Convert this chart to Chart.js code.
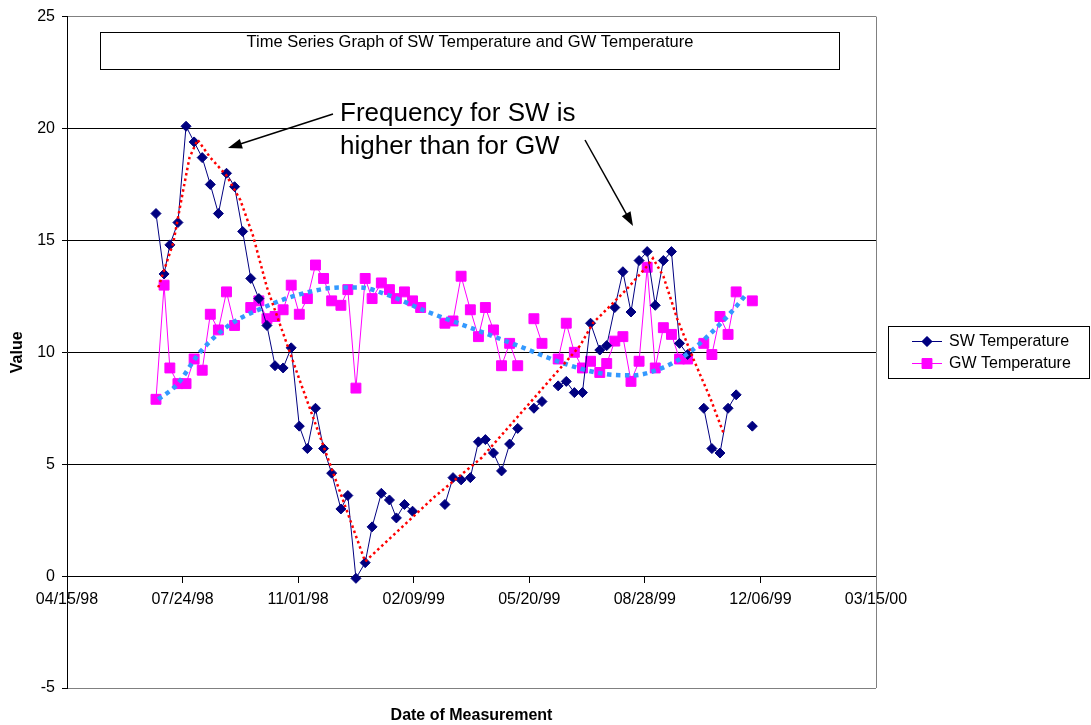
<!DOCTYPE html>
<html lang="en">
<head>
<meta charset="UTF-8">
<title>Time Series Graph of SW Temperature and GW Temperature</title>
<script src="https://cdn.jsdelivr.net/npm/chart.js"></script>
<style>
  html, body { margin: 0; padding: 0; background: #fff; }
  #wrap { position: relative; width: 1091px; height: 725px; }
</style>
</head>
<body>
<div id="wrap"><canvas id="tempChart"></canvas></div>
<script>
// weekly sampling dates, null = no reading that week
const sampleDates = [
  '07/01/98', '07/08/98', '07/13/98', '07/20/98', '07/27/98', '08/03/98', '08/10/98', '08/17/98',
  '08/24/98', '08/31/98', '09/07/98', '09/14/98', '09/21/98', '09/28/98', '10/05/98', '10/12/98',
  '10/19/98', '10/26/98', '11/02/98', '11/09/98', '11/16/98', '11/23/98', '11/30/98', '12/08/98',
  '12/14/98', '12/21/98', '12/29/98', '01/04/99', '01/12/99', '01/19/99', '01/25/99', '02/01/99',
  '02/08/99', '02/15/99', '02/22/99', '03/01/99', '03/08/99', '03/15/99', '03/22/99', '03/30/99',
  '04/06/99', '04/12/99', '04/19/99', '04/26/99', '05/03/99', '05/10/99', '05/17/99', '05/24/99',
  '05/31/99', '06/07/99', '06/14/99', '06/21/99', '06/28/99', '07/05/99', '07/12/99', '07/20/99',
  '07/26/99', '08/02/99', '08/09/99', '08/16/99', '08/23/99', '08/30/99', '09/06/99', '09/13/99',
  '09/20/99', '09/27/99', '10/04/99', '10/11/99', '10/18/99', '10/25/99', '11/01/99', '11/08/99',
  '11/15/99', '11/22/99', '11/29/99'
];
const swTemperature = [
  16.2, 13.5, 14.8, 15.8, 20.1, 19.4, 18.7, 17.5,
  16.2, 18.0, 17.4, 15.4, 13.3, 12.4, 11.2, 9.4,
  9.3, 10.2, 6.7, 5.7, 7.5, 5.7, 4.6, 3.0,
  3.6, -0.1, 0.6, 2.2, 3.7, 3.4, 2.6, 3.2,
  2.9, null, null, null, 3.2, 4.4, 4.3, 4.4,
  6.0, 6.1, 5.5, 4.7, 5.9, 6.6, null, 7.5,
  7.8, null, 8.5, 8.7, 8.2, 8.2, 11.3, 10.1,
  10.3, 12.0, 13.6, 11.8, 14.1, 14.5, 12.1, 14.1,
  14.5, 10.4, 9.9, null, 7.5, 5.7, 5.5, 7.5,
  8.1, null, 6.7
];
const gwTemperature = [
  7.9, 13.0, 9.3, 8.6, 8.6, 9.7, 9.2, 11.7,
  11.0, 12.7, 11.2, null, 12.0, 12.3, 11.5, 11.6,
  11.9, 13.0, 11.7, 12.4, 13.9, 13.3, 12.3, 12.1,
  12.8, 8.4, 13.3, 12.4, 13.1, 12.8, 12.4, 12.7,
  12.3, 12.0, null, null, 11.3, 11.4, 13.4, 11.9,
  10.7, 12.0, 11.0, 9.4, 10.4, 9.4, null, 11.5,
  10.4, null, 9.7, 11.3, 10.0, 9.3, 9.6, 9.1,
  9.5, 10.5, 10.7, 8.7, 9.6, 13.8, 9.3, 11.1,
  10.8, 9.7, 9.7, null, 10.4, 9.9, 11.6, 10.8,
  12.7, null, 12.3
];

// trend curves drawn over the readings
const swTrendDates = [
  '07/03/98', '07/16/98', '07/24/98', '07/30/98', '08/06/98', '08/17/98', '08/31/98', '09/12/98',
  '09/23/98', '10/05/98', '11/02/98', '12/29/98', '02/26/99', '04/09/99', '07/03/99', '07/14/99',
  '08/12/99', '08/29/99', '09/04/99', '09/13/99', '09/25/99', '10/09/99', '10/24/99', '11/04/99'
];
const swTrendValues = [
  12.9, 14.9, 17.1, 18.7, 19.5, 18.7, 17.9, 16.8,
  15.2, 12.9, 8.8, 0.65, 3.5, 5.3, 10.3, 11.3,
  12.8, 13.8, 14.2, 13.4, 11.5, 9.7, 7.9, 6.4
];
const gwTrendDates = [
  '07/03/98', '07/19/98', '08/08/98', '09/02/98', '10/02/98', '11/03/98', '12/08/98', '12/24/98',
  '01/18/99', '02/19/99', '03/30/99', '05/10/99', '06/19/99', '07/22/99', '08/17/99', '09/11/99',
  '10/03/99', '10/23/99', '11/10/99', '11/24/99'
];
const gwTrendValues = [
  7.9, 8.55, 10.0, 11.2, 12.0, 12.6, 12.9, 12.9,
  12.55, 11.85, 11.1, 10.3, 9.5, 9.05, 8.97, 9.28,
  9.9, 10.8, 11.75, 12.6
];

const xTickLabels = ['04/15/98', '07/24/98', '11/01/98', '02/09/99', '05/20/99', '08/28/99', '12/06/99', '03/15/00'];
const yMin = -5, yMax = 25, yStep = 5;

const FONT = "'Liberation Sans', Arial, sans-serif";

function dayNumber(mmddyy) {
  const [m, d, y] = mmddyy.split('/').map(Number);
  const year = y < 50 ? 2000 + y : 1900 + y;
  return Date.UTC(year, m - 1, d) / 86400000;
}
function dayLabel(day) {
  const dt = new Date(Math.round(day) * 86400000);
  const pad = n => String(n).padStart(2, '0');
  return pad(dt.getUTCMonth() + 1) + '/' + pad(dt.getUTCDate()) + '/' + pad(dt.getUTCFullYear() % 100);
}
function toPoints(dates, values) {
  return dates.map((d, i) => ({ x: dayNumber(d), y: values[i] }));
}

function arrow(ctx, x1, y1, x2, y2) {
  const a = Math.atan2(y2 - y1, x2 - x1);
  const len = 14, half = 5;
  ctx.beginPath();
  ctx.moveTo(x1, y1);
  ctx.lineTo(x2 - Math.cos(a) * len * 0.8, y2 - Math.sin(a) * len * 0.8);
  ctx.stroke();
  ctx.beginPath();
  ctx.moveTo(x2, y2);
  ctx.lineTo(x2 - len * Math.cos(a) + half * Math.sin(a), y2 - len * Math.sin(a) - half * Math.cos(a));
  ctx.lineTo(x2 - len * Math.cos(a) - half * Math.sin(a), y2 - len * Math.sin(a) + half * Math.cos(a));
  ctx.closePath();
  ctx.fill();
}

// title box, note with arrows, axis titles, right-hand legend, plot frame
const decorations = {
  id: 'decorations',
  afterDraw(chart) {
    const ctx = chart.ctx;
    const area = chart.chartArea;
    ctx.save();

    // right edge of the plot frame
    ctx.strokeStyle = '#808080';
    ctx.lineWidth = 1;
    ctx.beginPath();
    ctx.moveTo(Math.round(area.right) + 0.5, area.top);
    ctx.lineTo(Math.round(area.right) + 0.5, area.bottom);
    ctx.stroke();

    // title box
    ctx.fillStyle = '#fff';
    ctx.fillRect(100.5, 32.5, 739, 37);
    ctx.strokeStyle = '#000';
    ctx.strokeRect(100.5, 32.5, 739, 37);
    ctx.fillStyle = '#000';
    ctx.font = '16.5px ' + FONT;
    ctx.textAlign = 'center';
    ctx.textBaseline = 'alphabetic';
    ctx.fillText('Time Series Graph of SW Temperature and GW Temperature', 470, 47);

    // note
    ctx.textAlign = 'left';
    ctx.font = '26px ' + FONT;
    ctx.fillText('Frequency for SW is', 340, 121);
    ctx.fillText('higher than for GW', 340, 154);
    ctx.lineWidth = 1.5;
    ctx.strokeStyle = '#000';
    arrow(ctx, 333, 114, 228, 148);
    arrow(ctx, 585, 140, 633, 226);

    // axis titles
    ctx.font = 'bold 16px ' + FONT;
    ctx.textAlign = 'center';
    ctx.textBaseline = 'middle';
    ctx.fillText('Date of Measurement', (area.left + area.right) / 2, 716);
    ctx.save();
    ctx.translate(18, (area.top + area.bottom) / 2);
    ctx.rotate(-Math.PI / 2);
    ctx.fillText('Value', 0, 0);
    ctx.restore();

    // legend
    ctx.lineWidth = 1;
    ctx.strokeStyle = '#000';
    ctx.strokeRect(888.5, 326.5, 201, 52);
    ctx.font = '16px ' + FONT;
    ctx.textAlign = 'left';
    ctx.textBaseline = 'middle';
    const rows = [341, 363];
    chart.data.datasets.filter(ds => ds.inLegend).forEach((ds, i) => {
      const y = rows[i];
      ctx.strokeStyle = ds.borderColor;
      ctx.lineWidth = 1;
      ctx.beginPath();
      ctx.moveTo(912, y + 0.5);
      ctx.lineTo(942, y + 0.5);
      ctx.stroke();
      ctx.fillStyle = ds.backgroundColor;
      Chart.helpers.drawPoint(ctx, { pointStyle: ds.pointStyle, radius: ds.pointRadius, borderWidth: 1 }, 927, y + 0.5);
      ctx.fill();
      ctx.fillStyle = '#000';
      ctx.fillText(ds.label, 949, y + 1);
    });

    ctx.restore();
  }
};

Chart.defaults.font.family = FONT;
Chart.defaults.color = '#000';

new Chart(document.getElementById('tempChart'), {
  type: 'line',
  data: {
    datasets: [
      {
        label: 'SW trend',
        data: toPoints(swTrendDates, swTrendValues),
        borderColor: '#FF0000',
        borderWidth: 2.5,
        borderDash: [2.5, 3],
        pointRadius: 0,
        tension: 0,
        order: 0
      },
      {
        label: 'GW trend',
        data: toPoints(gwTrendDates, gwTrendValues),
        borderColor: '#3399FF',
        borderWidth: 4.5,
        borderDash: [4.5, 4.5],
        pointRadius: 0,
        cubicInterpolationMode: 'monotone',
        order: 0
      },
      {
        label: 'SW Temperature',
        inLegend: true,
        data: toPoints(sampleDates, swTemperature),
        borderColor: '#000080',
        backgroundColor: '#000080',
        borderWidth: 1,
        pointStyle: 'rectRot',
        pointRadius: 5,
        pointBorderWidth: 1,
        spanGaps: false,
        order: 1
      },
      {
        label: 'GW Temperature',
        inLegend: true,
        data: toPoints(sampleDates, gwTemperature),
        borderColor: '#FF00FF',
        backgroundColor: '#FF00FF',
        borderWidth: 1,
        pointStyle: 'rect',
        pointRadius: 7,
        pointBorderWidth: 1,
        spanGaps: false,
        order: 2
      }
    ]
  },
  options: {
    responsive: true,
    maintainAspectRatio: false,
    animation: false,
    events: [],
    layout: { padding: { left: 0, top: 15, right: 215, bottom: 37 } },
    plugins: {
      legend: { display: false },
      tooltip: { enabled: false }
    },
    scales: {
      x: {
        type: 'linear',
        position: { y: 0 },
        min: dayNumber(xTickLabels[0]),
        max: dayNumber(xTickLabels[xTickLabels.length - 1]),
        afterBuildTicks: scale => {
          scale.ticks = xTickLabels.map(l => ({ value: dayNumber(l) }));
        },
        ticks: {
          autoSkip: false,
          maxRotation: 0,
          padding: 8,
          font: { size: 16 },
          callback: value => dayLabel(value)
        },
        grid: { drawOnChartArea: false, drawTicks: true, tickLength: 6, color: '#000' },
        border: { color: '#000', width: 1 }
      },
      y: {
        min: yMin,
        max: yMax,
        afterFit: scale => { scale.width = 67; },
        ticks: { stepSize: yStep, padding: 7, font: { size: 16 } },
        grid: {
          color: c => (c.tick && (c.tick.value === yMax || c.tick.value === yMin)) ? '#808080' : '#000',
          tickColor: '#000',
          tickLength: 5
        },
        border: { color: '#000', width: 1 }
      }
    }
  },
  plugins: [decorations]
});
</script>
</body>
</html>
